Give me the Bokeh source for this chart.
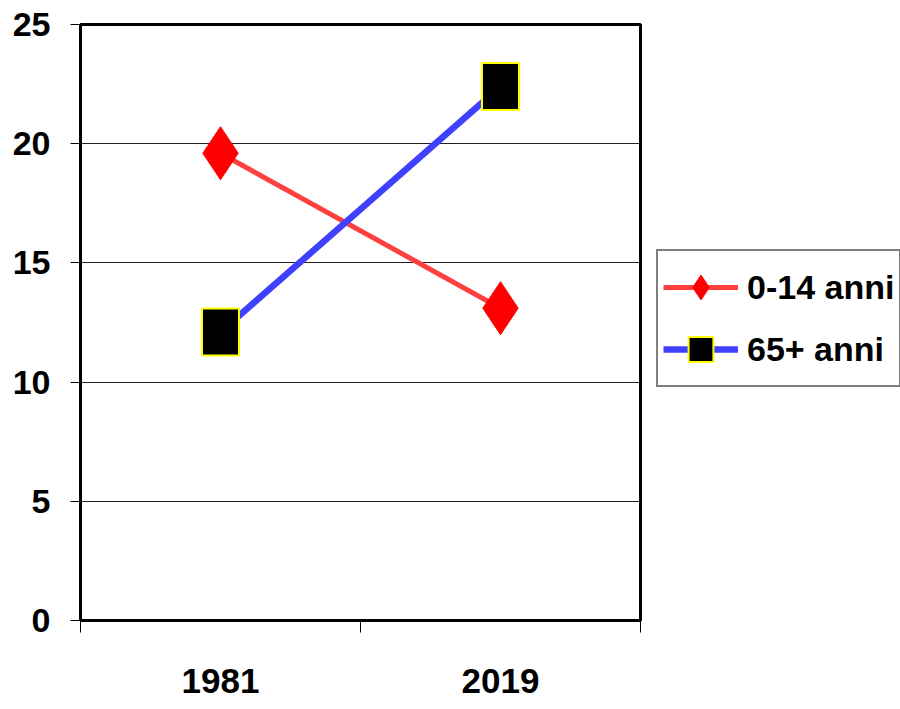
from bokeh.plotting import figure
from bokeh.layouts import row
from bokeh.models import (Range1d, LinearAxis, FixedTicker, Legend, LegendItem, ColumnDataSource)
from bokeh.embed import file_html
from bokeh.resources import INLINE

# ---- data ----
years = ["1981", "2019"]
young = [19.6, 13.1]          # 0-14 anni
old = [12.1, 22.4]            # 65+ anni
series_names = ["0-14 anni", "65+ anni"]
y_ticks = [0, 5, 10, 15, 20, 25]

# category slots: centre of each slot and the slot boundaries
pos = [i + 0.5 for i in range(len(years))]
edges = list(range(len(years) + 1))

FONT = "Liberation Sans"
RED_LINE, BLUE_LINE = "#FF4040", "#4040FF"

p = figure(width=642, height=709, x_range=Range1d(0, len(years)), y_range=Range1d(0, 25),
           output_backend="svg", toolbar_location=None, x_axis_location=None,
           min_border_left=80, min_border_right=2, min_border_top=24, min_border_bottom=89)
p.background_fill_color = "white"
p.border_fill_color = "white"
p.outline_line_color = "black"
p.outline_line_width = 3

# boundary ticks on x
tick_axis = LinearAxis(ticker=FixedTicker(ticks=edges),
                       major_tick_out=12, major_tick_in=0, major_tick_line_color="black",
                       major_tick_line_width=1, minor_tick_line_color=None, axis_line_color=None,
                       major_label_text_font_size="0px", major_label_standoff=0,
                       major_label_overrides={e: "" for e in edges})
p.add_layout(tick_axis, "below")
label_axis = LinearAxis(ticker=FixedTicker(ticks=pos),
                        major_label_overrides={x: y for x, y in zip(pos, years)},
                        major_tick_line_color=None, major_tick_out=0, major_tick_in=0,
                        minor_tick_line_color=None, axis_line_color=None,
                        major_label_standoff=36, major_label_text_font=FONT,
                        major_label_text_font_size="35px", major_label_text_font_style="bold",
                        major_label_text_color="black")
p.add_layout(label_axis, "below")

# y axis
p.yaxis.ticker = FixedTicker(ticks=y_ticks)
p.yaxis.major_tick_out = 10
p.yaxis.major_tick_in = 0
p.yaxis.major_tick_line_color = "black"
p.yaxis.axis_line_color = None
p.yaxis.minor_tick_line_color = None
p.yaxis.major_label_text_font = FONT
p.yaxis.major_label_text_font_size = "34px"
p.yaxis.major_label_text_font_style = "bold"
p.yaxis.major_label_text_color = "black"
p.yaxis.major_label_standoff = 20

p.ygrid.grid_line_color = "#222222"
p.ygrid.grid_line_width = 1
p.xgrid.visible = False

src = ColumnDataSource(dict(x=pos, year=years, young=young, old=old))

p.line("x", "young", source=src, line_color=RED_LINE, line_width=5)
p.line("x", "old", source=src, line_color=BLUE_LINE, line_width=6.5)
p.scatter("x", "young", source=src, marker="diamond", size=53,
          fill_color="#FF0000", line_color="#FF0000", line_width=1)
p.rect("x", "old", source=src, width=37, height=47, width_units="screen",
       height_units="screen", fill_color="black", line_color="#FFFF00", line_width=2)

# ---- legend panel (separate figure to the right of the plot) ----
# its ranges keep the series' own glyphs out of view, only the legend shows
q = figure(width=258, height=709, x_range=Range1d(0, 1), y_range=Range1d(0, 1),
           output_backend="svg", toolbar_location=None, x_axis_location=None,
           y_axis_location=None, min_border=0)
q.outline_line_color = None
q.background_fill_color = "white"
q.border_fill_color = "white"
q.xgrid.visible = False
q.ygrid.visible = False
l1 = q.line("x", "young", source=src, line_color=RED_LINE, line_width=5)
m1 = q.scatter("x", "young", source=src, marker="diamond", fill_color="#FF0000",
               line_color="#FF0000", line_width=1)
l2 = q.line("x", "old", source=src, line_color=BLUE_LINE, line_width=6.5)
m2 = q.scatter("x", "old", source=src, marker="square", fill_color="black",
               line_color="#FFFF00", line_width=2)

legend = Legend(items=[LegendItem(label=series_names[0], renderers=[l1, m1]),
                       LegendItem(label=series_names[1], renderers=[l2, m2])],
                location=(14, 233), glyph_width=75, glyph_height=62, spacing=0, padding=5,
                margin=0, label_standoff=9, label_text_font=FONT, label_text_font_size="34px",
                label_text_font_style="bold", label_text_color="black",
                border_line_color="black", border_line_width=2,
                background_fill_color="white", background_fill_alpha=1)
q.add_layout(legend)

layout = row(p, q)
open("out.html", "w").write(file_html(layout, INLINE))
